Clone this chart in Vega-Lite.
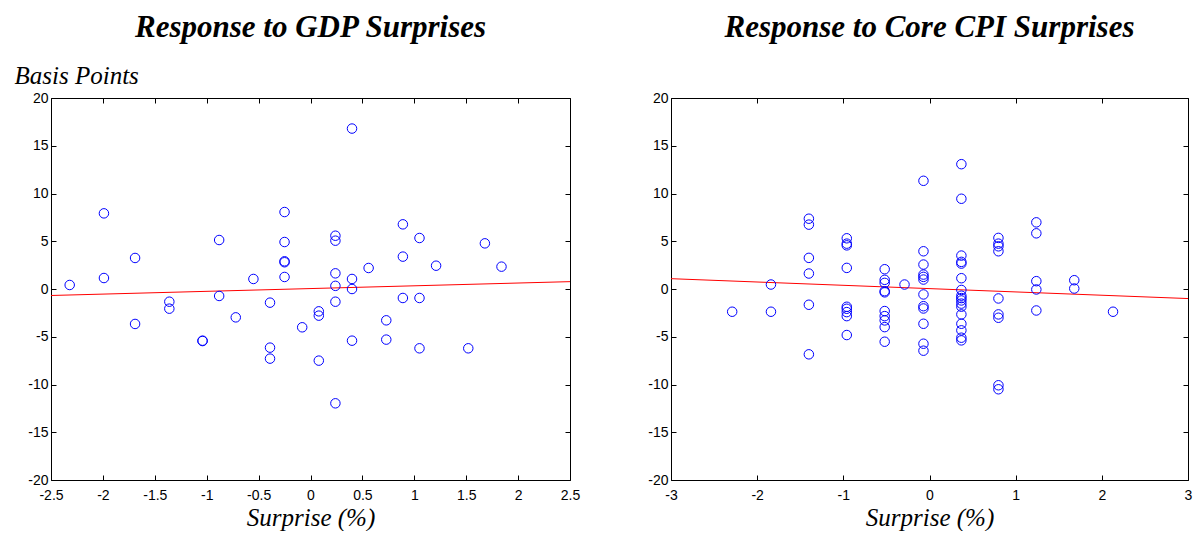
{
  "$schema": "https://vega.github.io/schema/vega-lite/v6.json",
  "background": "white",
  "padding": {"left": 13, "top": 11, "right": 0, "bottom": 0},
  "bounds": "flush",
  "spacing": 101,
  "config": {
    "view": {"stroke": "black", "strokeWidth": 1},
    "axis": {
      "grid": false,
      "domain": false,
      "tickColor": "black",
      "tickWidth": 1,
      "tickSize": -5,
      "labelPadding": 8,
      "labelFlush": false,
      "labelColor": "black",
      "labelFont": "Liberation Sans",
      "labelFontSize": 14,
      "labelExpr": "toString(datum.value)",
      "titleFont": "Liberation Serif",
      "titleFontStyle": "italic",
      "titleFontWeight": "normal",
      "titleFontSize": 25,
      "titleColor": "black"
    },
    "axisBottom": {"labelPadding": 13, "titlePadding": 3},
    "title": {"font": "Liberation Serif", "fontStyle": "italic", "fontWeight": "bold", "fontSize": 31, "color": "black", "offset": 19, "anchor": "middle"}
  },
  "datasets": {
    "gdp": [
      {"surprise": -2.32, "bp": 0.42}, {"surprise": -1.99, "bp": 7.92}, {"surprise": -1.99, "bp": 1.15},
      {"surprise": -1.69, "bp": 3.25}, {"surprise": -1.69, "bp": -3.66}, {"surprise": -1.36, "bp": -1.33},
      {"surprise": -1.36, "bp": -2.06}, {"surprise": -1.04, "bp": -5.41}, {"surprise": -1.04, "bp": -5.45},
      {"surprise": -0.88, "bp": 5.13}, {"surprise": -0.88, "bp": -0.73}, {"surprise": -0.72, "bp": -2.97},
      {"surprise": -0.55, "bp": 1.05}, {"surprise": -0.39, "bp": -1.43}, {"surprise": -0.39, "bp": -6.14},
      {"surprise": -0.39, "bp": -7.29}, {"surprise": -0.25, "bp": 8.06}, {"surprise": -0.25, "bp": 4.92},
      {"surprise": -0.25, "bp": 2.9}, {"surprise": -0.25, "bp": 2.8}, {"surprise": -0.25, "bp": 1.26},
      {"surprise": -0.08, "bp": -4.01}, {"surprise": 0.08, "bp": -2.34}, {"surprise": 0.08, "bp": -2.79},
      {"surprise": 0.08, "bp": -7.5}, {"surprise": 0.24, "bp": 5.58}, {"surprise": 0.24, "bp": 5.06},
      {"surprise": 0.24, "bp": 1.64}, {"surprise": 0.24, "bp": 0.33}, {"surprise": 0.24, "bp": -1.33},
      {"surprise": 0.24, "bp": -11.97}, {"surprise": 0.4, "bp": 16.8}, {"surprise": 0.4, "bp": 1.05},
      {"surprise": 0.4, "bp": 0.0}, {"surprise": 0.4, "bp": -5.41}, {"surprise": 0.56, "bp": 2.2},
      {"surprise": 0.73, "bp": -3.28}, {"surprise": 0.73, "bp": -5.3}, {"surprise": 0.89, "bp": 6.77},
      {"surprise": 0.89, "bp": 3.39}, {"surprise": 0.89, "bp": -0.94}, {"surprise": 1.05, "bp": 5.34},
      {"surprise": 1.05, "bp": -0.94}, {"surprise": 1.05, "bp": -6.21}, {"surprise": 1.21, "bp": 2.44},
      {"surprise": 1.52, "bp": -6.21}, {"surprise": 1.68, "bp": 4.78}, {"surprise": 1.84, "bp": 2.34}
    ],
    "gdpfit": [{"surprise": -2.5, "bp": -0.68}, {"surprise": 2.5, "bp": 0.77}],
    "cpi": [
      {"surprise": -2.29, "bp": -2.38}, {"surprise": -1.84, "bp": 0.47}, {"surprise": -1.84, "bp": -2.38},
      {"surprise": -1.4, "bp": 7.36}, {"surprise": -1.4, "bp": 6.74}, {"surprise": -1.4, "bp": 3.26},
      {"surprise": -1.4, "bp": 1.62}, {"surprise": -1.4, "bp": -1.65}, {"surprise": -1.4, "bp": -6.84},
      {"surprise": -0.96, "bp": 5.31}, {"surprise": -0.96, "bp": 4.75}, {"surprise": -0.96, "bp": 4.57},
      {"surprise": -0.96, "bp": 2.21}, {"surprise": -0.96, "bp": -1.86}, {"surprise": -0.96, "bp": -2.07},
      {"surprise": -0.96, "bp": -2.42}, {"surprise": -0.96, "bp": -2.84}, {"surprise": -0.96, "bp": -4.82},
      {"surprise": -0.52, "bp": 2.07}, {"surprise": -0.52, "bp": 0.96}, {"surprise": -0.52, "bp": 0.64},
      {"surprise": -0.52, "bp": -0.23}, {"surprise": -0.52, "bp": -0.35}, {"surprise": -0.52, "bp": -2.31},
      {"surprise": -0.52, "bp": -2.84}, {"surprise": -0.52, "bp": -3.29}, {"surprise": -0.52, "bp": -3.99},
      {"surprise": -0.52, "bp": -5.52}, {"surprise": -0.29, "bp": 0.47}, {"surprise": -0.07, "bp": 11.33},
      {"surprise": -0.07, "bp": 3.95}, {"surprise": -0.07, "bp": 2.56}, {"surprise": -0.07, "bp": 1.51},
      {"surprise": -0.07, "bp": 1.27}, {"surprise": -0.07, "bp": 0.99}, {"surprise": -0.07, "bp": -0.57},
      {"surprise": -0.07, "bp": -1.8}, {"surprise": -0.07, "bp": -2.04}, {"surprise": -0.07, "bp": -3.64},
      {"surprise": -0.07, "bp": -5.73}, {"surprise": -0.07, "bp": -6.46}, {"surprise": 0.37, "bp": 13.07},
      {"surprise": 0.37, "bp": 9.45}, {"surprise": 0.37, "bp": 3.5}, {"surprise": 0.37, "bp": 2.84},
      {"surprise": 0.37, "bp": 2.66}, {"surprise": 0.37, "bp": 1.13}, {"surprise": 0.37, "bp": -0.1},
      {"surprise": 0.37, "bp": -0.7}, {"surprise": 0.37, "bp": -0.95}, {"surprise": 0.37, "bp": -1.2},
      {"surprise": 0.37, "bp": -1.53}, {"surprise": 0.37, "bp": -1.85}, {"surprise": 0.37, "bp": -2.66},
      {"surprise": 0.37, "bp": -3.64}, {"surprise": 0.37, "bp": -4.33}, {"surprise": 0.37, "bp": -5.1},
      {"surprise": 0.37, "bp": -5.38}, {"surprise": 0.8, "bp": 5.35}, {"surprise": 0.8, "bp": 4.75},
      {"surprise": 0.8, "bp": 4.47}, {"surprise": 0.8, "bp": 3.95}, {"surprise": 0.8, "bp": -0.99},
      {"surprise": 0.8, "bp": -2.66}, {"surprise": 0.8, "bp": -3.01}, {"surprise": 0.8, "bp": -10.08},
      {"surprise": 0.8, "bp": -10.5}, {"surprise": 1.24, "bp": 6.98}, {"surprise": 1.24, "bp": 5.83},
      {"surprise": 1.24, "bp": 0.82}, {"surprise": 1.24, "bp": -0.05}, {"surprise": 1.24, "bp": -2.25},
      {"surprise": 1.68, "bp": 0.92}, {"surprise": 1.68, "bp": 0.05}, {"surprise": 2.13, "bp": -2.38}
    ],
    "cpifit": [{"surprise": -3, "bp": 1.08}, {"surprise": 3, "bp": -1.0}]
  },
  "hconcat": [
    {
      "width": 519,
      "height": 382,
      "title": {"text": "Response to GDP Surprises"},
      "resolve": {"axis": {"x": "independent", "y": "independent"}},
      "layer": [
        {
          "mark": {"type": "rule", "color": "black", "strokeWidth": 1, "strokeDash": [5, 4]},
          "encoding": {"y": {"datum": 0, "type": "quantitative", "axis": null}}
        },
        {
          "mark": {"type": "rule", "color": "#444444", "strokeWidth": 1, "strokeDash": [5, 4]},
          "encoding": {"x": {"datum": 0, "type": "quantitative", "axis": null}}
        },
        {
          "data": {"name": "gdpfit"},
          "mark": {"type": "line", "color": "#ff0000", "strokeWidth": 1},
          "encoding": {
            "x": {"field": "surprise", "type": "quantitative", "axis": {"orient": "top", "labels": false, "title": null, "values": [-2.5, -2, -1.5, -1, -0.5, 0, 0.5, 1, 1.5, 2, 2.5]}},
            "y": {"field": "bp", "type": "quantitative", "axis": {"orient": "right", "labels": false, "title": null, "values": [-20, -15, -10, -5, 0, 5, 10, 15, 20]}}
          }
        },
        {
          "data": {"name": "gdp"},
          "mark": {"type": "point", "shape": "circle", "filled": false, "color": "#0000ff", "size": 90, "strokeWidth": 1, "opacity": 1},
          "encoding": {
            "x": {"field": "surprise", "type": "quantitative", "scale": {"domain": [-2.5, 2.5], "nice": false, "zero": false},
                  "axis": {"orient": "bottom", "title": "Surprise (%)", "values": [-2.5, -2, -1.5, -1, -0.5, 0, 0.5, 1, 1.5, 2, 2.5]}},
            "y": {"field": "bp", "type": "quantitative", "scale": {"domain": [-20, 20], "nice": false, "zero": false},
                  "axis": {"orient": "left", "title": "Basis Points", "titleAngle": 0, "titleAlign": "left", "titleBaseline": "alphabetic", "titleX": -37, "titleY": -15, "values": [-20, -15, -10, -5, 0, 5, 10, 15, 20]}}
          }
        }
      ]
    },
    {
      "width": 517,
      "height": 382,
      "title": {"text": "Response to Core CPI Surprises"},
      "resolve": {"axis": {"x": "independent", "y": "independent"}},
      "layer": [
        {
          "mark": {"type": "rule", "color": "black", "strokeWidth": 1, "strokeDash": [5, 4]},
          "encoding": {"y": {"datum": 0, "type": "quantitative", "axis": null}}
        },
        {
          "mark": {"type": "rule", "color": "black", "strokeWidth": 1, "strokeDash": [5, 4]},
          "encoding": {"x": {"datum": 0, "type": "quantitative", "axis": null}}
        },
        {
          "data": {"name": "cpifit"},
          "mark": {"type": "line", "color": "#ff0000", "strokeWidth": 1},
          "encoding": {
            "x": {"field": "surprise", "type": "quantitative", "axis": {"orient": "top", "labels": false, "title": null, "values": [-3, -2, -1, 0, 1, 2, 3]}},
            "y": {"field": "bp", "type": "quantitative", "axis": {"orient": "right", "labels": false, "title": null, "values": [-20, -15, -10, -5, 0, 5, 10, 15, 20]}}
          }
        },
        {
          "data": {"name": "cpi"},
          "mark": {"type": "point", "shape": "circle", "filled": false, "color": "#0000ff", "size": 90, "strokeWidth": 1, "opacity": 1},
          "encoding": {
            "x": {"field": "surprise", "type": "quantitative", "scale": {"domain": [-3, 3], "nice": false, "zero": false},
                  "axis": {"orient": "bottom", "title": "Surprise (%)", "values": [-3, -2, -1, 0, 1, 2, 3]}},
            "y": {"field": "bp", "type": "quantitative", "scale": {"domain": [-20, 20], "nice": false, "zero": false},
                  "axis": {"orient": "left", "title": "Basis Points", "titleOpacity": 0, "titleAngle": 0, "titleAlign": "left", "titleBaseline": "alphabetic", "titleX": -37, "titleY": -15, "values": [-20, -15, -10, -5, 0, 5, 10, 15, 20]}}
          }
        }
      ]
    }
  ]
}
